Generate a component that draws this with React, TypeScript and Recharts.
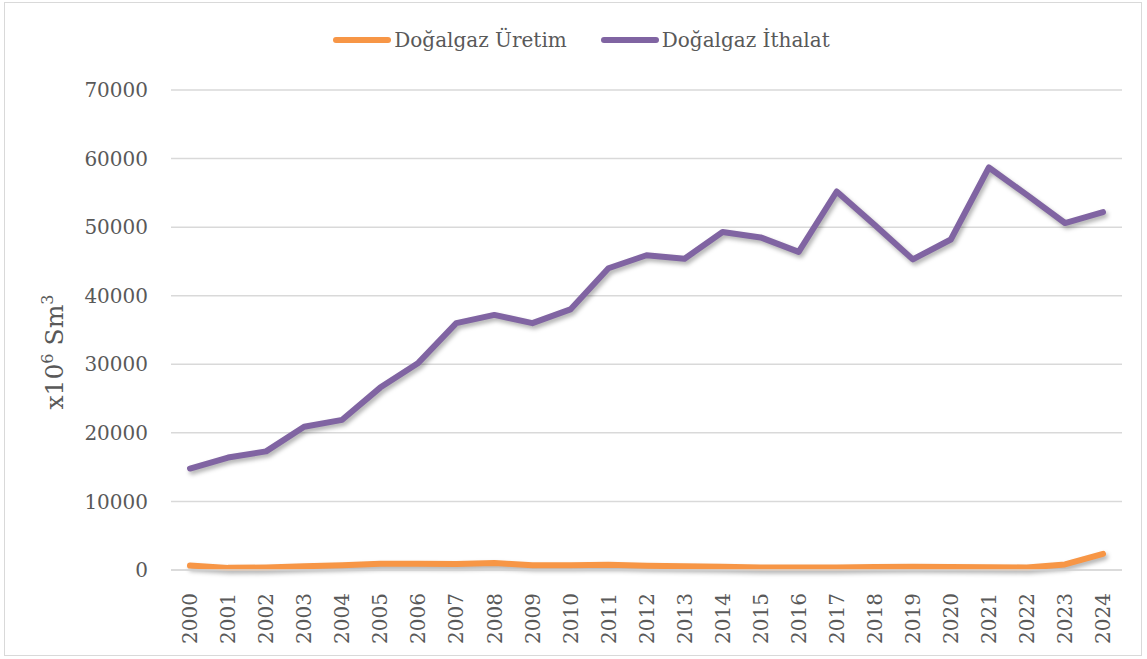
import { LineChart, Line, XAxis, YAxis, CartesianGrid } from 'recharts';

// Yıllar ve seriler (x10^6 Sm3)
const years = [
  '2000', '2001', '2002', '2003', '2004', '2005', '2006', '2007', '2008', '2009',
  '2010', '2011', '2012', '2013', '2014', '2015', '2016', '2017', '2018', '2019',
  '2020', '2021', '2022', '2023', '2024',
];
const uretim = [
  640, 310, 380, 560, 710, 900, 910, 890, 1020, 680,
  680, 760, 630, 540, 480, 380, 370, 350, 430, 470,
  440, 390, 380, 810, 2350,
];
const ithalat = [
  14800, 16400, 17300, 20900, 21900, 26600, 30200, 36000, 37200, 36000,
  38000, 44000, 45900, 45400, 49300, 48500, 46400, 55200, 50300, 45300,
  48200, 58700, 54700, 50600, 52200,
];
const yTicks = [0, 10000, 20000, 30000, 40000, 50000, 60000, 70000];

const COLORS = {
  uretim: '#F79646',
  ithalat: '#8064A2',
  text: '#595959',
  grid: '#D9D9D9',
};

const FONT = '"DejaVu Serif", "Liberation Serif", serif';

const data = years.map((year, i) => ({
  year,
  uretim: uretim[i],
  ithalat: ithalat[i],
}));

const SERIES = [
  { key: 'uretim', label: 'Doğalgaz Üretim', color: COLORS.uretim },
  { key: 'ithalat', label: 'Doğalgaz İthalat', color: COLORS.ithalat },
];

function LegendBox() {
  return (
    <div style={{ position: 'absolute', top: 27, left: 0, width: 1147, display: 'flex', justifyContent: 'center', alignItems: 'center', gap: 34, paddingLeft: 16, boxSizing: 'border-box' }}>
      {SERIES.map((s) => (
        <div key={s.key} style={{ display: 'flex', alignItems: 'center' }}>
          <span style={{ display: 'inline-block', width: 58, height: 6, borderRadius: 3, background: s.color, marginRight: 3 }} />
          <span style={{ fontFamily: FONT, fontSize: 20, color: COLORS.text, lineHeight: '26px' }}>{s.label}</span>
        </div>
      ))}
    </div>
  );
}

function YearTick(props: any) {
  const { x, y, payload } = props;
  return (
    <g transform={`translate(${x},${y + 15})`}>
      <text transform="rotate(-90)" textAnchor="end" dy="0.36em" fill={COLORS.text} fontFamily={FONT} fontSize={20}>
        {payload.value}
      </text>
    </g>
  );
}

function UnitLabel() {
  return (
    <text x={63} y={352} transform="rotate(-90 63 352)" textAnchor="middle" fill={COLORS.text} fontFamily={FONT} fontSize={25}>
      x10
      <tspan dy={-10} fontSize={16}>6</tspan>
      <tspan dy={10}> Sm</tspan>
      <tspan dy={-10} fontSize={16}>3</tspan>
    </text>
  );
}

export default function App() {
  return (
    <div style={{ position: 'absolute', left: 0, top: 0, width: 1147, height: 659, background: '#fff' }}>
      <style>{`.recharts-line-curve { filter: drop-shadow(2px 3px 2px rgba(0,0,0,0.3)); }`}</style>
      <div style={{ position: 'absolute', left: 4, top: 2, width: 1136, height: 652, border: '1px solid #D9D9D9' }} />
      <LegendBox />
      <LineChart width={1147} height={659} data={data} margin={{ top: 90, right: 25, bottom: 0, left: 0 }}>
        <CartesianGrid vertical={false} stroke={COLORS.grid} strokeWidth={1.5} />
        <XAxis
          dataKey="year"
          height={89}
          interval={0}
          padding={{ left: 19, right: 19 }}
          tickLine={false}
          axisLine={{ stroke: COLORS.grid, strokeWidth: 1.5 }}
          tick={<YearTick />}
        />
        <YAxis
          width={171}
          domain={[0, 70000]}
          ticks={yTicks}
          tickLine={false}
          axisLine={false}
          tickSize={0}
          tickMargin={23}
          tick={{ fill: COLORS.text, fontFamily: FONT, fontSize: 20 }}
          label={{ content: () => <UnitLabel /> }}
        />
        <Line
          type="linear"
          dataKey="uretim"
          name="Doğalgaz Üretim"
          stroke={COLORS.uretim}
          strokeWidth={6}
          strokeLinecap="round"
          strokeLinejoin="round"
          dot={false}
          activeDot={false}
          isAnimationActive={false}
        />
        <Line
          type="linear"
          dataKey="ithalat"
          name="Doğalgaz İthalat"
          stroke={COLORS.ithalat}
          strokeWidth={6}
          strokeLinecap="round"
          strokeLinejoin="round"
          dot={false}
          activeDot={false}
          isAnimationActive={false}
        />
      </LineChart>
    </div>
  );
}
